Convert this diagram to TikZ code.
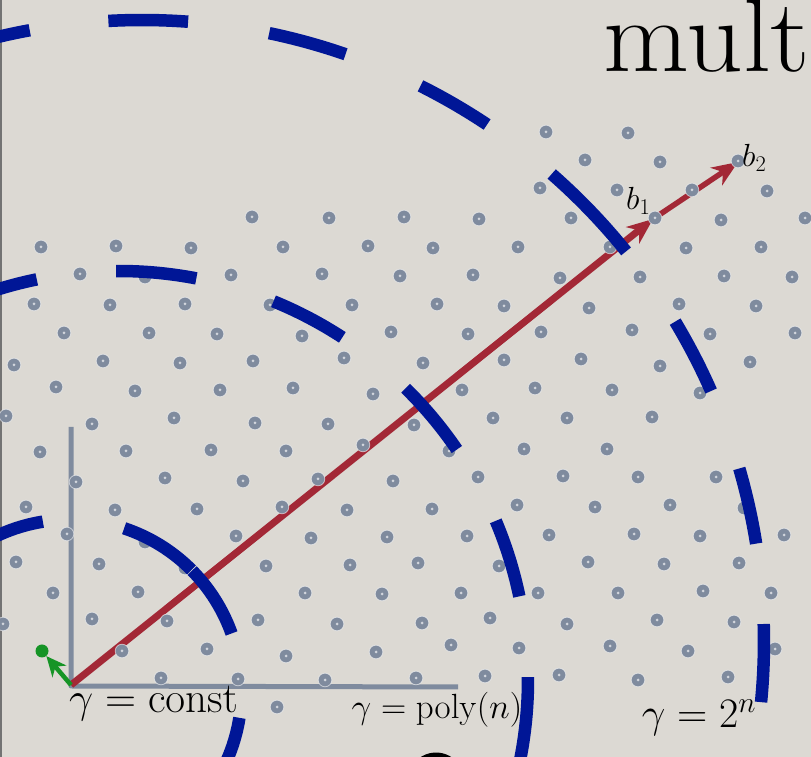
\RequirePackage{fix-cm}
\documentclass[tikz,border=0pt]{standalone}
\usetikzlibrary{arrows.meta}
\definecolor{paper}{RGB}{220,217,211}
\definecolor{latgrey}{RGB}{127,139,158}
\definecolor{ringblue}{RGB}{0,22,150}
\definecolor{basisred}{RGB}{163,40,54}
\definecolor{shortgreen}{RGB}{22,148,38}
\begin{document}
\begin{tikzpicture}[x=1pt, y=1pt,
  latpt/.style={fill=latgrey, draw=white, draw opacity=0.55, line width=0.8pt},
  ring/.style={draw=ringblue, line width=12.5pt},
  axisline/.style={draw=latgrey, line width=5pt, line join=round},
  basis/.style={draw=basisred, line width=#1, -{Stealth[length=26pt, width=21pt, inset=8pt]}},
  shortvec/.style={draw=shortgreen, line width=4.5pt, -{Stealth[length=20pt, width=18pt, inset=6pt]}},
  gammalabel/.style={inner sep=0pt, anchor=base, font=\fontsize{#1}{#1}\selectfont},
  veclabel/.style={inner sep=0pt, anchor=base west, font=\fontsize{32}{32}\selectfont}]
  \fill[paper] (0,0) rectangle (811,757);
  \useasboundingbox (0,0) rectangle (811,757);
  \fill[black!55] (0,0) rectangle (2,757);

  \coordinate (O) at (71,72);
  \coordinate (ytop) at (71,330);
  \coordinate (xend) at (458,70);
  \draw[axisline] (ytop) -- (71,71) -- (xend);

  \coordinate (b1) at (653,538);
  \coordinate (b2) at (738,595);
  \draw[basis=7pt] (O) -- (b1);
  \draw[basis=5.5pt] (b1) -- (b2);
  \node[circle, fill=shortgreen, minimum size=13pt, inner sep=0pt] (s) at (42,106) {};
  \draw[shortvec] (O) -- (s);

  \foreach \x/\y in {546/132, 628/133, 585/160, 660/162, 738/161,
    540/188, 617/190, 692/190, 767/191,
    252/217, 329/218, 404/217, 479/219, 571/218, 655/218, 721/220, 805/218,
    41/247, 116/246, 191/248, 283/247, 368/246, 433/248, 518/247, 610/247, 686/248, 761/247,
    80/274, 145/277, 231/275, 322/274, 400/276, 473/275, 560/278, 640/277, 724/276, 792/277,
    34/304, 110/305, 185/304, 270/305, 352/305, 437/304, 504/306, 589/308, 679/304, 756/306,
    64/333, 149/333, 217/334, 302/336, 391/332, 468/334, 541/332, 632/330, 710/334, 795/333,
    14/365, 103/361, 180/363, 253/361, 344/358, 423/363, 504/360, 581/359, 660/366, 750/362,
    56/387, 135/391, 220/390, 293/388, 373/394, 462/390, 535/388, 612/390, 700/393,
    6/416, 92/424, 174/418, 255/423, 328/424, 414/425, 493/418, 567/418, 652/417,
    40/452, 126/451, 211/450, 286/451, 363/445, 449/451, 524/449, 607/449,
    76/482, 165/478, 243/481, 318/479, 393/481, 478/477, 563/476, 638/477, 716/477,
    26/507, 115/510, 197/509, 282/507, 347/510, 432/509, 517/505, 595/507, 670/505, 744/508,
    67/534, 145/542, 236/536, 311/538, 387/537, 467/536, 549/535, 634/534, 700/536, 784/535,
    16/562, 99/564, 185/568, 266/566, 350/565, 418/563, 499/566, 588/562, 664/564, 739/563,
    53/593, 138/592, 305/593, 382/594, 461/593, 538/593, 618/593, 703/591, 771/593,
    3/624, 92/619, 167/621, 258/620, 337/624, 422/623, 490/618, 567/624, 657/620, 734/622,
    122/651, 207/649, 286/656, 376/652, 451/645, 519/648, 610/646, 688/651, 775/649,
    161/678, 238/679, 325/680, 416/678, 485/676, 559/675, 638/680, 728/677, 277/707}
  {
    \path[latpt] (\x,{757-\y}) circle[radius=6.8];
    \fill[white!65!latgrey] (\x,{757-\y}) circle[radius=1.5];
  }

  \coordinate (c1) at (70,66);
  \coordinate (c2) at (119,77);
  \coordinate (c3) at (142,115);
  \foreach \a/\b in {99.1/125, 44.9/71.6, 19.6/44.6, -35/-9}
    \draw[ring] ([shift={(\a:171.5)}]c1) arc[start angle=\a, end angle=\b, radius=171.5];
  \foreach \a/\b in {101.6/115, 79.1/90.4, 56.9/67.8, 34.3/45.5, 11.8/22.9, -13/0.4}
    \draw[ring] ([shift={(\a:409)}]c2) arc[start angle=\a, end angle=\b, radius=409];
  \foreach \a/\b in {100.4/108, 85.75/93.1, 70.9/78.2, 56.3/63.4, 38.9/48.8, 23.8/31, 9.1/16.2, -5.55/1.66}
    \draw[ring] ([shift={(\a:622)}]c3) arc[start angle=\a, end angle=\b, radius=622];

  \draw[line width=5pt] (406,-34) ++(30,0) ++(145:30 and 36) arc[start angle=145, end angle=35, x radius=30, y radius=36];

  \node[gammalabel=43] (gconst) at (153.5,44) {$\gamma = \mathrm{const}$};
  \node[gammalabel=35] (gpoly) at (437,38) {$\gamma = \mathrm{poly}(n)$};
  \node[gammalabel=42] (gexp) at (699,29) {$\gamma = 2^n$};
  \node[veclabel] (lb1) at (626,547) {$b_1$};
  \node[veclabel] (lb2) at (742,590) {$b_2$};
  \node[inner sep=0pt, anchor=base west, font=\fontsize{104}{104}\selectfont] (title) at (603,685) {\scalebox{1.07}[1]{multi}};
\end{tikzpicture}
\end{document}
